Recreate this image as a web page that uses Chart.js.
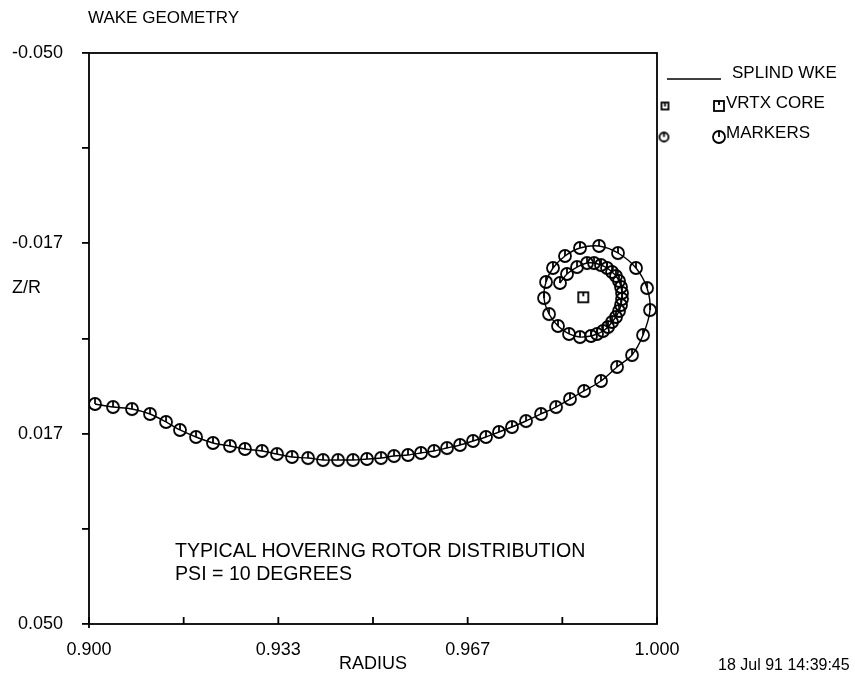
<!DOCTYPE html>
<html>
<head>
<meta charset="utf-8">
<script src="https://cdn.jsdelivr.net/npm/chart.js@4"></script>
<style>
  body { margin: 0; background: #fff; }
  #wrap { position: relative; width: 855px; height: 678px; }
  #grafico { position: absolute; left: 0; top: 0; }
  .txt { position: absolute; font-family: 'Liberation Sans', Arial, sans-serif; font-size: 18px; line-height: 18px; color: #000; white-space: nowrap; }
</style>
</head>
<body>
<div id="wrap">
  <canvas id="grafico" width="855" height="678"></canvas>
  <div class="txt" style="left:88px;top:9px;font-size:17px">WAKE GEOMETRY</div>
  <div class="txt" style="left:12px;top:278px">Z/R</div>
  <div class="txt" style="left:732px;top:64px;font-size:17px">SPLIND WKE</div>
  <div class="txt" style="left:726px;top:94px;font-size:17px">VRTX CORE</div>
  <div class="txt" style="left:726px;top:124px;font-size:17px">MARKERS</div>
  <div class="txt" style="left:175px;top:541px;font-size:19.6px">TYPICAL HOVERING ROTOR DISTRIBUTION</div>
  <div class="txt" style="left:175px;top:564px;font-size:19.6px">PSI = 10 DEGREES</div>
  <div class="txt" style="left:718px;top:656px;font-size:16px">18 Jul 91 14:39:45</div>
</div>
<script>
// trajetoria da esteira (raio, Z/R)
const radius = [
  0.90106, 0.90423, 0.90757, 0.91074, 0.91356, 0.91602, 0.91884, 0.92183, 0.92482, 0.92746,
  0.93046, 0.93310, 0.93574, 0.93856, 0.94120, 0.94384, 0.94648, 0.94894, 0.95141, 0.95370,
  0.95616, 0.95845, 0.96074, 0.96303, 0.96532, 0.96761, 0.96989, 0.97218, 0.97447, 0.97694,
  0.97958, 0.98222, 0.98468, 0.98715, 0.99014, 0.99296, 0.99560, 0.99754, 0.99877, 0.99824,
  0.99630, 0.99313, 0.98979, 0.98644, 0.98380, 0.98169, 0.98046, 0.98011, 0.98099, 0.98257,
  0.98451, 0.98644, 0.98838, 0.98944, 0.99049, 0.99137, 0.99208, 0.99278, 0.99331, 0.99366,
  0.99384, 0.99384, 0.99366, 0.99331, 0.99278, 0.99208, 0.99120, 0.99014, 0.98891, 0.98768,
  0.98592, 0.98415, 0.98292
];
const zr = [
  0.01147, 0.01200, 0.01235, 0.01322, 0.01462, 0.01602, 0.01725, 0.01830, 0.01883, 0.01935,
  0.01970, 0.02023, 0.02075, 0.02093, 0.02128, 0.02128, 0.02128, 0.02110, 0.02093, 0.02058,
  0.02040, 0.02005, 0.01970, 0.01918, 0.01865, 0.01795, 0.01725, 0.01637, 0.01550, 0.01445,
  0.01322, 0.01200, 0.01060, 0.00919, 0.00744, 0.00499, 0.00289, -0.00061, -0.00499, -0.00884,
  -0.01235, -0.01497, -0.01620, -0.01585, -0.01445, -0.01235, -0.00990, -0.00709, -0.00429, -0.00219,
  -0.00079, -0.00026, -0.00044, -0.00079, -0.00131, -0.00201, -0.00289, -0.00377, -0.00482, -0.00587,
  -0.00692, -0.00797, -0.00902, -0.01007, -0.01094, -0.01165, -0.01235, -0.01287, -0.01322, -0.01322,
  -0.01252, -0.01130, -0.00972
];
const coreRadius = [0.98702];
const coreZr = [-0.00722];

const xTickVals = [0.9, 0.916667, 0.933333, 0.95, 0.966667, 0.983333, 1.0];
const xTickLabels = ['0.900', '', '0.933', '', '0.967', '', '1.000'];
const yTickVals = [-0.05, -0.033333, -0.016667, 0, 0.016667, 0.033333, 0.05];
const yTickLabels = ['-0.050', '', '-0.017', '', '0.017', '', '0.050'];

// simbolos desenhados em canvas
function makeMarker(r) {
    const c = document.createElement('canvas');
    c.width = c.height = 2 * r + 4;
    const g = c.getContext('2d');
    const m = r + 2;
    g.strokeStyle = '#000';
    g.lineWidth = 1.8;
    g.beginPath();
    g.arc(m, m, r, 0, Math.PI * 2);
    g.stroke();
    g.beginPath();
    g.moveTo(m, m - r);
    g.lineTo(m, m);
    g.stroke();
    return c;
}

function makeSquare(h) {
    const c = document.createElement('canvas');
    c.width = c.height = 2 * h + 4;
    const g = c.getContext('2d');
    const m = h + 2;
    g.strokeStyle = '#000';
    g.lineWidth = 1.8;
    g.strokeRect(m - h, m - h, 2 * h, 2 * h);
    g.beginPath();
    g.moveTo(m, m - h);
    g.lineTo(m, m - h + 4);
    g.stroke();
    return c;
}

const markerImg = makeMarker(6);
const squareImg = makeSquare(5);
const markerSmall = makeMarker(4.5);
const squareSmall = makeSquare(3.5);

const toPts = (xs, ys) => xs.map((x, i) => ({ x: x, y: ys[i] }));

const framePlugin = {
    id: 'frame',
    afterDraw(chart) {
        const { ctx, chartArea: a } = chart;
        const xs = chart.scales.x;
        ctx.save();
        ctx.strokeStyle = '#000';
        ctx.lineWidth = 1.8;
        ctx.strokeRect(a.left, a.top, a.right - a.left, a.bottom - a.top);
        // ticks do eixo x para dentro
        xTickVals.forEach(v => {
            const px = xs.getPixelForValue(v);
            ctx.beginPath();
            ctx.moveTo(px, a.bottom + (v === xTickVals[0] ? 4 : 0));
            ctx.lineTo(px, a.bottom - 7);
            ctx.stroke();
        });
        // legenda
        ctx.lineWidth = 1.3;
        ctx.beginPath();
        ctx.moveTo(667, 79);
        ctx.lineTo(721, 79);
        ctx.stroke();
        ctx.drawImage(squareImg, 719 - squareImg.width / 2, 106 - squareImg.height / 2);
        ctx.drawImage(squareSmall, 665 - squareSmall.width / 2, 106 - squareSmall.height / 2);
        ctx.drawImage(markerImg, 719 - markerImg.width / 2, 137 - markerImg.height / 2);
        ctx.drawImage(markerSmall, 664 - markerSmall.width / 2, 137 - markerSmall.height / 2);
        ctx.restore();
    }
};

Chart.defaults.font.family = "'Liberation Sans', Arial, sans-serif";
Chart.defaults.font.size = 18;
Chart.defaults.color = '#000';

new Chart(document.getElementById('grafico').getContext('2d'), {
    type: 'scatter',
    data: {
        datasets: [
            {
                label: 'SPLIND WKE',
                data: toPts(radius, zr),
                showLine: true,
                tension: 0.3,
                borderColor: '#000',
                borderWidth: 1.4,
                pointRadius: 0
            },
            {
                label: 'MARKERS',
                data: toPts(radius, zr),
                pointStyle: markerImg,
                pointRadius: 6
            },
            {
                label: 'VRTX CORE',
                data: toPts(coreRadius, coreZr),
                pointStyle: squareImg,
                pointRadius: 5
            }
        ]
    },
    options: {
        responsive: false,
        animation: false,
        devicePixelRatio: 1,
        layout: { padding: { left: 0, top: 53, right: 198, bottom: 0 } },
        plugins: { legend: { display: false }, tooltip: { enabled: false } },
        scales: {
            x: {
                type: 'linear',
                min: 0.9,
                max: 1.0,
                afterBuildTicks: s => { s.ticks = xTickVals.map(v => ({ value: v })); },
                afterFit: s => { s.height = 54; },
                ticks: {
                    autoSkip: false,
                    maxRotation: 0,
                    padding: 7,
                    callback: (v, i) => xTickLabels[i]
                },
                grid: { display: false },
                border: { display: false },
                title: { display: true, text: 'RADIUS', padding: { top: 0, bottom: 3 }, font: { size: 18 } }
            },
            y: {
                type: 'linear',
                min: -0.05,
                max: 0.05,
                reverse: true,
                afterBuildTicks: s => { s.ticks = yTickVals.map(v => ({ value: v })); },
                afterFit: s => { s.width = 89; },
                ticks: {
                    autoSkip: false,
                    padding: 19,
                    callback: (v, i) => yTickLabels[i]
                },
                grid: { drawOnChartArea: false, drawTicks: true, tickLength: 7, color: '#000', lineWidth: 1.8 },
                border: { display: false }
            }
        }
    },
    plugins: [framePlugin]
});
</script>
</body>
</html>
